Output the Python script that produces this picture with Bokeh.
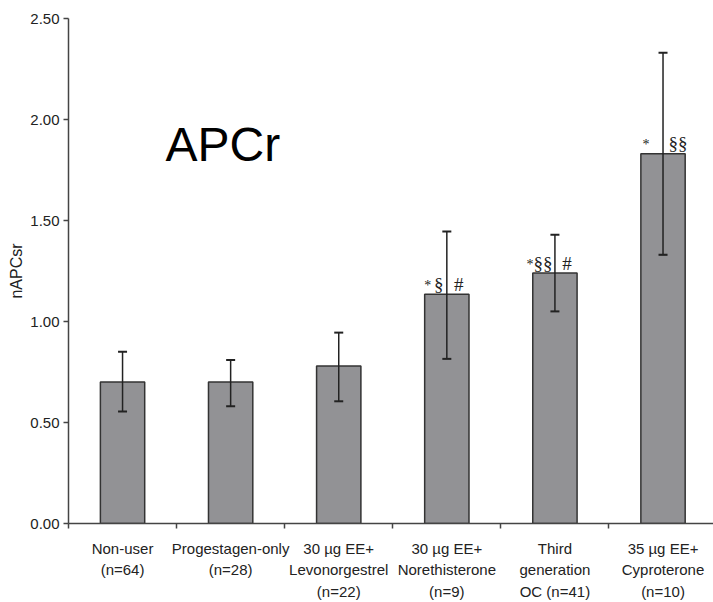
from bokeh.plotting import figure
from bokeh.models import (ColumnDataSource, Range1d, FixedTicker, Whisker, TeeHead,
                          Label, NumeralTickFormatter)
from bokeh.core.properties import value
from bokeh.embed import file_html
from bokeh.resources import INLINE

# ---- data ----
categories = ["Non-user\n(n=64)", "Progestagen-only\n(n=28)",
              "30 µg EE+\nLevonorgestrel\n(n=22)", "30 µg EE+\nNorethisterone\n(n=9)",
              "Third\ngeneration\nOC (n=41)", "35 µg EE+\nCyproterone\n(n=10)"]
means = [0.70, 0.70, 0.78, 1.135, 1.24, 1.83]
err_upper = [0.85, 0.81, 0.945, 1.445, 1.43, 2.33]
err_lower = [0.555, 0.58, 0.605, 0.815, 1.05, 1.33]
y_ticks = [0.0, 0.5, 1.0, 1.5, 2.0, 2.5]

# significance marks: bar index, symbol
sig_bar = [3, 3, 3, 4, 4, 4, 5, 5]
sig_text = ["*", "§", "#", "*", "§§", "#", "*", "§§"]
sig_dx = [-19, -8, 12, -25, -12, 12, -17, 15]   # pixel offsets (style)

SANS = "Liberation Sans"

xc = [i + 0.5 for i in range(len(categories))]
src = ColumnDataSource(dict(x=xc, top=means, upper=err_upper, lower=err_lower))

p = figure(width=713, height=602, output_backend="svg", toolbar_location=None,
           x_range=Range1d(0, 5.967), y_range=Range1d(0, 2.5),
           min_border_left=68, min_border_right=0, min_border_top=18, min_border_bottom=79)
p.outline_line_color = None
p.xgrid.grid_line_color = None
p.ygrid.grid_line_color = None
p.background_fill_color = "white"

p.vbar(x="x", top="top", width=0.41, bottom=0, source=src,
       fill_color="#929295", line_color="#333333", line_width=1.5)

w = Whisker(source=src, base="x", upper="upper", lower="lower", level="overlay",
            line_color="#222222", line_width=1.5,
            upper_head=TeeHead(size=9, line_color="#222222", line_width=2),
            lower_head=TeeHead(size=9, line_color="#222222", line_width=2))
p.add_layout(w)

# significance symbols
sx = [xc[b] for b in sig_bar]
sy = [means[b] for b in sig_bar]
sfs = ["14px" if t == "*" else "19px" for t in sig_text]
sdy = [-9 if t == "*" else -10 for t in sig_text]
sym_src = ColumnDataSource(dict(x=sx, y=sy, t=sig_text, dx=sig_dx, fs=sfs, dy=sdy))
p.text(x="x", y="y", text="t", x_offset="dx", y_offset="dy", source=sym_src,
       text_font=value("Liberation Serif"), text_font_size="fs",
       text_align="center", text_baseline="middle", text_color="#222222")

# x axis
xa = p.xaxis[0]
xa.ticker = FixedTicker(ticks=xc, minor_ticks=list(range(len(categories) + 1)))
xa.major_label_overrides = {x: c for x, c in zip(xc, categories)}
xa.major_tick_line_color = None
xa.major_tick_out = 0
xa.minor_tick_in = 0
xa.minor_tick_out = 5
xa.minor_tick_line_color = "#444444"
xa.minor_tick_line_width = 1.5
xa.axis_line_color = "#444444"
xa.axis_line_width = 1.5
xa.major_label_standoff = 11
xa.major_label_text_font = SANS
xa.major_label_text_font_size = "15px"
xa.major_label_text_color = "#222222"
xa.major_label_text_line_height = 1.27

# y axis
ya = p.yaxis[0]
ya.ticker = FixedTicker(ticks=y_ticks)
ya.formatter = NumeralTickFormatter(format="0.00")
ya.minor_tick_line_color = None
ya.major_tick_in = 0
ya.major_tick_out = 5
ya.major_tick_line_color = "#444444"
ya.major_tick_line_width = 1.5
ya.axis_line_color = "#444444"
ya.axis_line_width = 1.5
ya.major_label_standoff = 4
ya.major_label_text_font = SANS
ya.major_label_text_font_size = "15px"
ya.major_label_text_color = "#222222"
ya.axis_label = "nAPCsr"
ya.axis_label_text_font = SANS
ya.axis_label_text_font_size = "16px"
ya.axis_label_text_font_style = "normal"
ya.axis_label_text_color = "#222222"
ya.axis_label_standoff = 2

p.add_layout(Label(x=0.897, y=1.878, text="APCr", text_font=SANS,
                   text_font_size="48px", text_color="black",
                   text_baseline="alphabetic", text_align="left"))

open("out.html", "w").write(file_html(p, INLINE))
